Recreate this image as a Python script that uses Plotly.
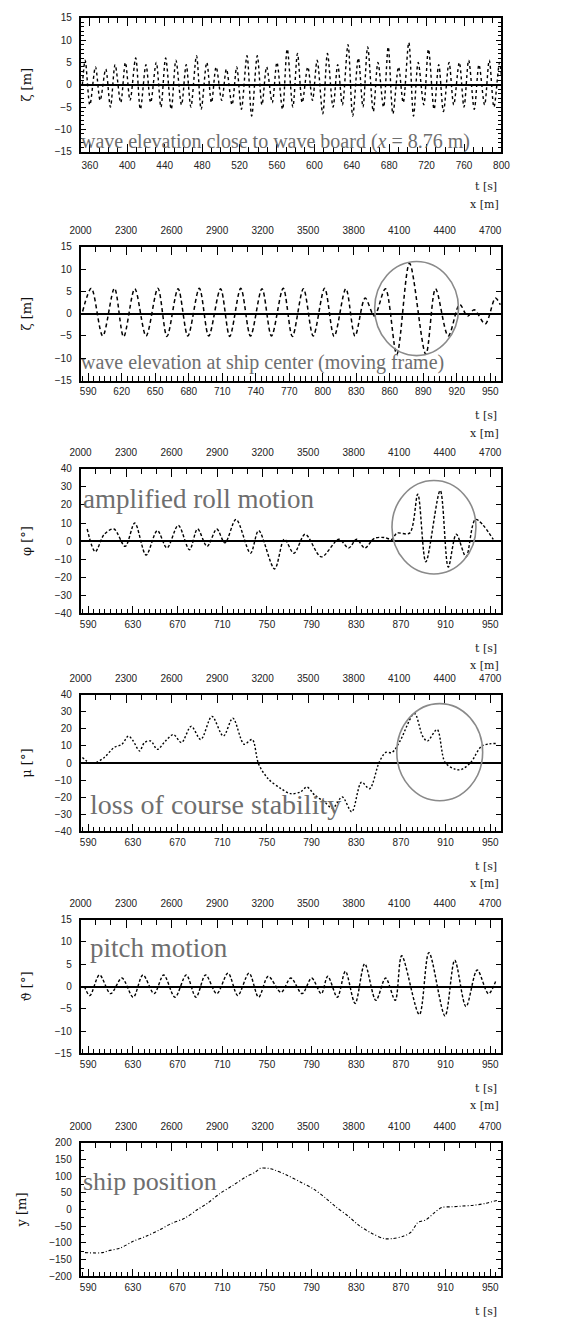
import plotly.graph_objects as go

W, H = 578, 1325

# ---------------- data ----------------
# panel 1: wave elevation close to wave board (crests / troughs)
p1_t = [352, 355, 360, 366, 371, 377, 382, 387, 393, 398, 403, 409, 414, 420, 425, 431, 436, 441,
        447, 452, 458, 463, 468, 474, 479, 485, 490, 495, 501, 506, 512, 517, 522, 528, 533, 539,
        544, 549, 555, 560, 566, 571, 577, 582, 587, 593, 598, 603, 609, 614, 620, 625, 630, 636,
        641, 647, 652, 657, 663, 668, 674, 679, 684, 690, 695, 701, 706, 711, 717, 722, 728, 733,
        738, 744, 749, 755, 760, 765, 771, 776, 782, 787, 792, 798, 800]
p1_z = [0.0, 5.5, -4.5, 4.0, -3.5, 3.5, -5.0, 4.5, -4.0, 5.0, -3.5, 6.0, -5.5, 4.5, -4.0, 5.0, -5.0, 6.0,
        -5.5, 5.5, -4.5, 4.5, -5.0, 6.5, -5.5, 5.0, -4.0, 4.0, -3.5, 3.5, -4.5, 4.0, -5.5, 6.5, -7.0, 6.5,
        -4.5, 4.0, -4.0, 5.0, -5.5, 8.0, -5.0, 7.0, -4.0, 4.0, -3.5, 5.5, -6.5, 7.0, -5.0, 4.5, -4.5, 9.0,
        -7.0, 6.0, -5.0, 8.5, -6.0, 5.0, -5.0, 8.5, -6.5, 4.0, -4.0, 9.5, -7.0, 5.0, -4.5, 8.0, -5.5, 4.5,
        -6.0, 5.0, -4.5, 5.0, -5.0, 5.5, -5.5, 4.5, -4.5, 5.5, -5.0, 5.0, 2.0]

# panel 2: wave elevation at ship center (moving frame)
p2_t = [585, 592.8, 603.0, 613.5, 621.7, 631.7, 641.8, 652.4, 660.5, 670.5, 679.2, 689.5, 697.9,
        708.5, 716.7, 726.6, 735.3, 745.6, 754.1, 764.6, 772.8, 782.7, 791.5, 801.7, 810.2, 820.7,
        828.9, 838.0, 846.2, 856.1, 866.3, 877.7, 892.3, 901.0, 912.4, 922.6, 929.7, 935.6, 945.5,
        954.6, 959]
p2_z = [0.5, 5.7, -5.0, 5.7, -5.2, 5.6, -5.0, 5.7, -5.1, 5.6, -5.0, 5.7, -5.0, 5.6, -5.1, 5.7,
        -5.0, 5.6, -5.0, 5.7, -5.1, 5.6, -5.0, 5.7, -5.1, 5.6, -5.0, 3.5, -0.5, 5.6, -9.1, 11.3,
        -9.1, 5.6, -5.0, 2.1, -0.6, 0.9, -2.3, 3.5, 2.0]

# panel 3: roll angle
p3_t = [589.1, 596.3, 604.4, 613.0, 623.1, 631.7, 641.8, 651.9, 660.5, 670.6, 680.7, 687.9, 696.5,
        705.1, 712.4, 722.4, 735.3, 742.6, 756.9, 765.6, 774.2, 784.3, 798.7, 814.5, 823.2, 830.3,
        837.6, 846.2, 854.9, 862.0, 866.3, 877.8, 885.1, 892.3, 905.2, 912.4, 919.6, 928.3, 936.9, 952.7]
p3_phi = [6.7, -5.8, 3.8, 6.7, -2.9, 10.0, -7.7, 5.8, -3.8, 8.7, -4.8, 6.7, -2.9, 6.7, -1.0, 12.0,
          -6.7, 5.8, -15.4, 1.0, -6.7, 3.8, -8.7, 1.0, -3.8, 1.0, -3.8, 1.5, 2.0, 1.0, 4.4, 4.4,
          26.0, -11.5, 28.0, -14.4, 3.8, -8.7, 12.0, 1.0]

# panel 4: course deviation
p4_t = [584.8, 591.5, 597.2, 604.4, 613.0, 620.2, 626.0, 630.3, 636.0, 640.4, 646.1, 651.9, 659.1,
        666.3, 673.5, 682.2, 690.8, 700.8, 711.0, 719.5, 729.6, 736.8, 742.6, 751.2, 762.7, 771.4,
        780.0, 785.8, 792.9, 801.6, 808.8, 817.4, 826.0, 834.7, 841.9, 850.5, 856.3, 862.0, 869.2,
        882.1, 889.4, 893.7, 902.4, 909.5, 918.2, 924.0, 932.6, 942.6, 955.5]
p4_mu = [3.3, 0.0, 0.4, 3.3, 9.0, 11.0, 15.8, 12.9, 7.1, 12.0, 12.9, 8.0, 12.9, 16.7, 12.0, 21.5,
         13.8, 27.3, 15.8, 26.3, 11.0, 13.8, -0.6, -9.2, -15.0, -17.9, -16.9, -14.0, -18.8, -22.7,
         -26.5, -19.8, -28.5, -11.2, -15.0, 0.4, 6.2, 6.2, 12.9, 29.0, 15.8, 12.9, 19.6, 0.4, -3.5,
         -3.8, 0.4, 10.0, 11.5]

# panel 5: pitch angle
p5_t = [586.6, 591.5, 600.1, 610.1, 620.2, 630.3, 639.0, 649.0, 657.6, 667.7, 677.8, 686.5, 695.1,
        705.1, 715.2, 723.9, 734.0, 742.6, 751.2, 762.7, 771.4, 781.5, 790.1, 798.7, 804.5, 813.1,
        820.3, 829.0, 837.6, 847.6, 856.3, 864.9, 870.7, 886.5, 895.1, 909.5, 918.2, 928.3, 938.3,
        948.4, 955.5]
p5_th = [0.0, -2.0, 2.6, -1.6, 1.9, -2.4, 2.6, -1.6, 2.6, -2.4, 2.6, -2.4, 2.6, -1.6, 3.0, -2.0,
         3.0, -2.4, 2.3, -1.3, 1.9, -1.6, 1.9, -1.6, 2.3, -2.4, 3.4, -3.8, 5.1, -3.1, 1.9, -3.1,
         6.9, -6.3, 7.6, -6.6, 5.9, -4.5, 3.7, -1.6, 1.6]

# panel 6: ship lateral position
p6_t = [587.1, 603.0, 607.3, 618.8, 630.3, 641.8, 653.3, 664.9, 676.4, 687.9, 696.5, 708.1, 719.5,
        731.0, 739.7, 744.0, 751.2, 757.1, 768.5, 780.0, 791.5, 803.0, 811.7, 823.2, 831.8, 843.3,
        854.9, 862.0, 872.1, 879.3, 885.1, 892.3, 899.5, 906.7, 915.3, 924.0, 935.4, 945.5, 957.0]
p6_y = [-129, -129, -124, -115, -95, -80, -62, -41, -26, 0, 18, 48, 72, 97, 112, 123, 123, 118,
        102, 82, 62, 33, 8, -21, -46, -70, -87, -87, -80, -67, -39, -31, -11, 6, 8, 10, 13, 18, 28]

# tick labels / axis texts
bottom_ticks_p1 = [360, 400, 440, 480, 520, 560, 600, 640, 680, 720, 760, 800]
bottom_ticks_p2 = [590, 620, 650, 680, 710, 740, 770, 800, 830, 860, 890, 920, 950]
bottom_ticks = [590, 630, 670, 710, 750, 790, 830, 870, 910, 950]
top_ticks = [2000, 2300, 2600, 2900, 3200, 3500, 3800, 4100, 4400, 4700]
y_titles = ["ζ [m]", "ζ [m]", "φ [°]", "μ [°]", "ϑ [°]", "y [m]"]
panel_texts = ["wave elevation close to wave board (<i>x</i> = 8.76 m)",
               "wave elevation at ship center (moving frame)",
               "amplified roll motion", "loss of course stability",
               "pitch motion", "ship position"]

# ---------------- layout helpers ----------------
X0, X1 = 72, 508
frames = [(12, 147), (243, 378), (467, 613), (695, 833), (922, 1057), (1147, 1282)]
yranges = [(-15, 15), (-15, 15), (-40, 40), (-40, 40), (-15, 15), (-200, 200)]
ydt = [5, 5, 10, 10, 5, 50]
yminor = [1, 1, 5, 5, 1, 25]
T_LO, T_HI = 583.1, 960.0
SPEED = 7.36  # m/s, mapping t -> x[m]


def xm(t):
    return 2000 + (t - 583.1) * SPEED


def py(p):
    return 1 - p / H


tick_font = dict(family="Liberation Sans, Arial, sans-serif", size=10, color="#222")
fig = go.Figure()

series = [(p1_t, p1_z), (p2_t, p2_z), (p3_t, p3_phi), (p4_t, p4_mu), (p5_t, p5_th), (p6_t, p6_y)]
dashes = ["3px,3px", "4px,3px", "3px,2px", "2px,2px", "3px,2px", "3px,2px,1px,2px"]
widths = [1.4, 1.5, 1.4, 1.4, 1.4, 1.1]
for i, (tx, vy) in enumerate(series):
    n = i + 1
    sfx = "" if n == 1 else str(n)
    fig.add_trace(go.Scatter(x=tx, y=vy, mode="lines", xaxis="x" + sfx, yaxis="y" + sfx,
                             line=dict(color="black", width=widths[i], dash=dashes[i], shape="spline",
                                       smoothing=0.9),
                             showlegend=False, hoverinfo="skip"))

layout = dict(width=W, height=H, margin=dict(l=0, r=0, t=0, b=0),
              paper_bgcolor="white", plot_bgcolor="white", showlegend=False,
              font=tick_font)

annotations = []
shapes = []
for i in range(6):
    n = i + 1
    sfx = "" if n == 1 else str(n)
    top, bot = frames[i]
    dom_y = [py(bot), py(top)]
    if n == 1:
        xr = [350, 800]
        tv = bottom_ticks_p1
    elif n == 2:
        xr = [T_LO, T_HI]
        tv = bottom_ticks_p2
    else:
        xr = [T_LO, T_HI]
        tv = bottom_ticks
    layout["xaxis" + sfx] = dict(
        domain=[X0 / W, X1 / W], anchor="y" + sfx, range=xr,
        tickmode="array", tickvals=tv, ticktext=[str(v) for v in tv],
        ticks="inside", ticklen=8, tickwidth=1.2, tickcolor="black",
        ticklabelstandoff=(4 if n == 1 else 1),
        minor=dict(ticks="inside", ticklen=5, dtick=5 if n > 1 else 10, tick0=590 if n > 1 else 360,
                   tickcolor="black", tickwidth=1),
        showline=True, linecolor="black", linewidth=1.5,
        mirror=("ticks" if n == 1 else True),
        showgrid=False, zeroline=False, fixedrange=True, tickfont=tick_font)
    yr = yranges[i]
    layout["yaxis" + sfx] = dict(
        domain=dom_y, anchor="x" + sfx, range=list(yr),
        tick0=yr[0], dtick=ydt[i],
        ticks="inside", ticklen=6, tickwidth=1.2, tickcolor="black",
        ticklabelstandoff=5,
        minor=dict(ticks="inside", ticklen=4, dtick=yminor[i], tickcolor="black", tickwidth=1)
        if i in (0, 5) else dict(ticks=""),
        showline=True, linecolor="black", linewidth=1.5, mirror="ticks",
        showgrid=False, zeroline=(n != 6), zerolinecolor="black", zerolinewidth=1.6,
        title=dict(text=y_titles[i], font=dict(family="DejaVu Serif, serif", size=13, color="#111"),
                   standoff=20),
        fixedrange=True, tickfont=tick_font)
    if n > 1:
        tid = str(n + 6)
        layout["xaxis" + tid] = dict(
            overlaying="x" + sfx, side="top", anchor="y" + sfx,
            range=[xm(T_LO), xm(T_HI)], tickmode="array", tickvals=top_ticks,
            ticktext=[str(v) for v in top_ticks],
            ticks="inside", ticklen=8, tickwidth=1.2, tickcolor="black",
            ticklabelstandoff=10,
            minor=dict(ticks="inside", ticklen=5, dtick=100, tick0=2000, tickcolor="black", tickwidth=1),
            showline=False, showgrid=False, zeroline=False, fixedrange=True, tickfont=tick_font)
        fig.add_trace(go.Scatter(x=[None], y=[None], xaxis="x" + tid, yaxis="y" + sfx,
                                 showlegend=False, hoverinfo="skip"))
    # t [s] / x [m] labels
    annotations.append(dict(text="t [s]", xref="paper", yref="paper", x=506 / W, y=py(bot + 35),
                            xanchor="right", yanchor="middle", showarrow=False,
                            font=dict(family="DejaVu Serif, serif", size=11, color="#222")))
    if n < 6:
        annotations.append(dict(text="x [m]", xref="paper", yref="paper", x=508 / W, y=py(bot + 53),
                                xanchor="right", yanchor="middle", showarrow=False,
                                font=dict(family="DejaVu Serif, serif", size=11, color="#222")))

# panel texts
text_pos = [(70, 137, 20), (70, 360, 20), (72, 498, 27), (80, 806, 28), (80, 951, 27), (72, 1186, 26)]
for i, (xp, ypix, fs) in enumerate(text_pos):
    annotations.append(dict(text=panel_texts[i], xref="paper", yref="paper", x=xp / W, y=py(ypix),
                            xanchor="left", yanchor="middle", showarrow=False,
                            font=dict(family="Liberation Serif, DejaVu Serif, serif", size=fs,
                                      color="#6e6e6e")))

# highlight circles (data coordinates)
circ = [("x2", "y2", 846.5, 921.6, -9.4, 11.7),
        ("x3", "y3", 862.0, 937.2, -18.2, 33.5),
        ("x4", "y4", 866.3, 943.2, -22.0, 34.8)]
for xr_, yr_, xa, xb, ya, yb in circ:
    shapes.append(dict(type="circle", xref=xr_, yref=yr_, x0=xa, x1=xb, y0=ya, y1=yb,
                       line=dict(color="#8a8a8a", width=1.6)))

layout["annotations"] = annotations
layout["shapes"] = shapes
fig.update_layout(**layout)
fig.write_html("out.html")
